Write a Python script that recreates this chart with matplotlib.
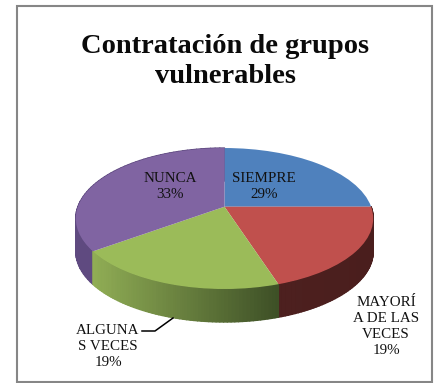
import numpy as np
import matplotlib
matplotlib.use("Agg")
import matplotlib.pyplot as plt
from matplotlib.collections import PolyCollection
from matplotlib.colors import to_rgb
from matplotlib.patches import Rectangle, Polygon
from matplotlib.transforms import Transform

# Data: drawn slice shares differ from the printed labels
categories = ["SIEMPRE", "MAYORÍA DE LAS VECES", "ALGUNAS VECES", "NUNCA"]
slice_shares = [25, 20, 20, 35]
printed_percent = [29, 19, 19, 33]
wrapped_names = ["SIEMPRE", "MAYORÍ\nA DE LAS\nVECES", "ALGUNA\nS VECES", "NUNCA"]
title = "Contratación de grupos\nvulnerables"

# Style
top_colors = ["#4f81bd", "#c0504d", "#9bbb59", "#8064a2"]
wall_left = [None, "#4d201f", "#90ad55", "#5f4a80"]
wall_right = [None, "#4a1e1d", "#3d4f26", "#5f4a80"]
label_px = [(264, 186), (386, 327), (108, 347), (170, 186)]
FONT = "Liberation Serif"

# Perspective of the pie in pixel space
CX, CY, A, K, W, DEPTH = 224.5, 206.7, 146.6, 68.5, 0.1675, 33.0


def project(xy):
    xy = np.asarray(xy, float)
    d = 1 + W * xy[..., 1]
    return np.stack([CX + A * xy[..., 0] / d, CY - K * xy[..., 1] / d], axis=-1)


class Perspective(Transform):
    input_dims = output_dims = 2
    is_affine = False
    has_inverse = False

    def transform_non_affine(self, values):
        return project(values)


fig = plt.figure(figsize=(4.36, 3.83), dpi=100, facecolor="white")
ax = fig.add_axes([0, 0, 1, 1])

wedges, _ = ax.pie(slice_shares, colors=top_colors, startangle=90, counterclock=False,
                   wedgeprops=dict(linewidth=0, zorder=3))
ax.set_aspect("auto")
ax.set_xlim(0, 436)
ax.set_ylim(383, 0)
ax.axis("off")
persp = Perspective()
for w in wedges:
    w.set_transform(persp + ax.transData)

# Side walls of the slices, derived from the same shares
edges = 2 * np.pi * np.concatenate([[0], np.cumsum(slice_shares)]) / np.sum(slice_shares)
for i in [3, 1, 2]:
    th = np.linspace(edges[i], edges[i + 1], 60)
    rim = project(np.stack([np.sin(th), np.cos(th)], axis=-1))
    c0, c1 = np.array(to_rgb(wall_left[i])), np.array(to_rgb(wall_right[i]))
    # opaque backing so that the gradient strips leave no seams
    backing = np.vstack([rim, rim[::-1] + [0, DEPTH]])
    ax.add_patch(Polygon(backing, closed=True, facecolor=(c0 + c1) / 2, edgecolor="none", zorder=2))
    quads, cols = [], []
    xmin, xmax = rim[:, 0].min(), rim[:, 0].max()
    for p, q in zip(rim[:-1], rim[1:]):
        quads.append([p, q, q + [0, DEPTH], p + [0, DEPTH]])
        t = ((p[0] + q[0]) / 2 - xmin) / (xmax - xmin)
        cols.append(c0 + (c1 - c0) * t)
    ax.add_collection(PolyCollection(quads, facecolors=cols, edgecolors=cols,
                                     linewidths=1.0, zorder=2))

# Chart frame
ax.add_patch(Rectangle((16.5, 5.5), 415, 376, fill=False, edgecolor="#868686",
                       linewidth=1.5, zorder=1))

ax.text(225, 61.5, title, ha="center", va="center", fontsize=20.5, fontweight="bold",
        family=FONT, color="#0a0a0a", linespacing=1.28)

for name, pct, (x, y) in zip(wrapped_names, printed_percent, label_px):
    ax.text(x, y, f"{name}\n{pct}%", ha="center", va="center", fontsize=10.8,
            family=FONT, color="#111111", linespacing=1.3, zorder=5)

# Leader line of the ALGUNAS VECES label
ax.plot([142, 155, 173], [331, 331, 318], color="black", lw=1.1, zorder=4)

fig.savefig("out.png", dpi=100)
